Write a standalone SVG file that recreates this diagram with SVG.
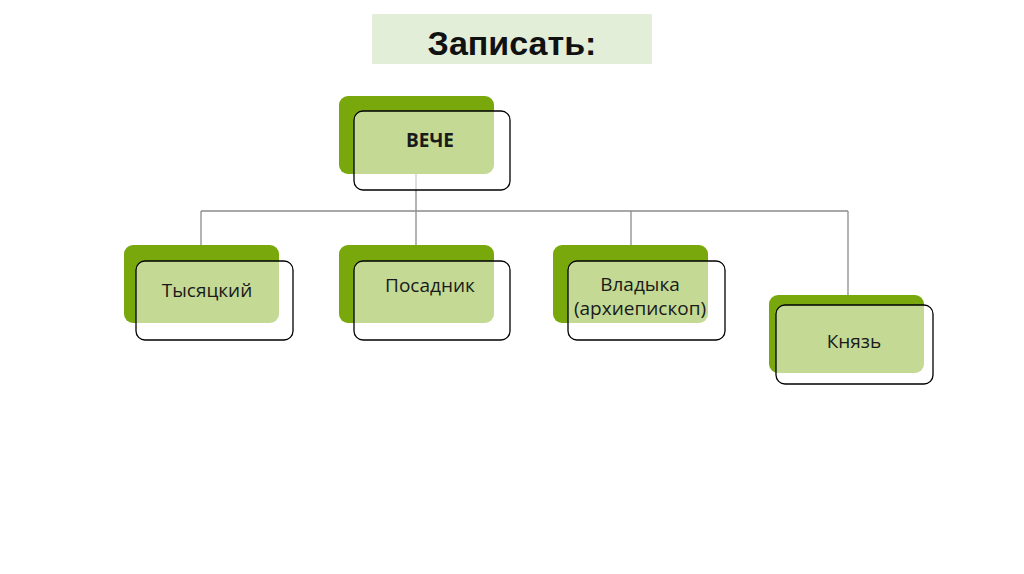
<svg xmlns="http://www.w3.org/2000/svg" width="1024" height="574" viewBox="0 0 1024 574">
<style>
.back{fill:#78a80c}
.front{fill:#ffffff;fill-opacity:0.56;stroke:#000;stroke-width:1.3}
.lbl{font-family:"Open Sans","DejaVu Sans",sans-serif;font-size:19px;fill:#1a1a1a;text-anchor:middle}
.conn{stroke:#8c8c8c;stroke-width:1.3;fill:none}
</style>
<rect width="1024" height="574" fill="#ffffff"/>
<g id="title">
<rect x="372" y="14" width="280" height="50" fill="#e3eed9"/>
<text x="512" y="55" font-family="'Liberation Sans',Arial,sans-serif" font-weight="bold" font-size="34" text-anchor="middle" fill="#111">Записать:</text>
</g>
<g id="connectors">
<path class="conn" d="M416 174V245M201 211H848M201 211V245M631 211V245M848 211V295"/>
</g>
<g id="veche">
<rect class="back" x="339" y="96" width="155" height="78" rx="9"/>
<rect class="front" x="354" y="111" width="156" height="79" rx="9"/>
<text class="lbl" x="430" y="147" font-weight="bold" font-size="17.5">ВЕЧЕ</text>
</g>
<g id="tysyatsky">
<rect class="back" x="124" y="245" width="155" height="78" rx="9"/>
<rect class="front" x="136" y="261" width="157" height="79" rx="9"/>
<text class="lbl" x="207" y="297">Тысяцкий</text>
</g>
<g id="posadnik">
<rect class="back" x="339" y="245" width="155" height="78" rx="9"/>
<rect class="front" x="354" y="261" width="156" height="79" rx="9"/>
<text class="lbl" x="430" y="292">Посадник</text>
</g>
<g id="vladyka">
<rect class="back" x="553" y="245" width="155" height="78" rx="9"/>
<rect class="front" x="568" y="261" width="157" height="79" rx="9"/>
<text class="lbl" x="640" y="291">Владыка</text>
<text class="lbl" x="640" y="315">(архиепископ)</text>
</g>
<g id="knyaz">
<rect class="back" x="769" y="295" width="155" height="78" rx="9"/>
<rect class="front" x="776" y="305" width="157" height="79" rx="9"/>
<text class="lbl" x="854" y="348">Князь</text>
</g>
</svg>
